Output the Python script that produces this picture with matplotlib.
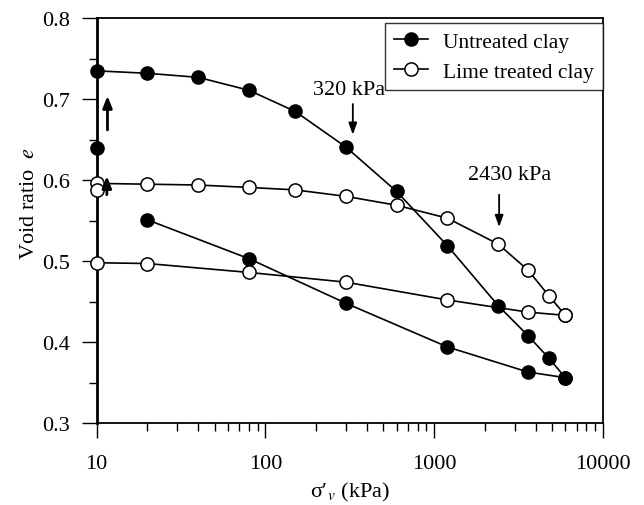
import matplotlib
matplotlib.use("Agg")
import matplotlib.pyplot as plt
from matplotlib.ticker import FixedLocator, NullFormatter, LogLocator

plt.rcParams['font.family'] = ['Liberation Serif', 'DejaVu Serif']
plt.rcParams['mathtext.fontset'] = 'stix'

# Untreated clay
unt_init_x = [10]
unt_init_y = [0.640]
unt_load_x = [10, 20, 40, 80, 150, 300, 600, 1200, 2400, 3600, 4800, 6000]
unt_load_y = [0.735, 0.732, 0.727, 0.711, 0.685, 0.641, 0.586, 0.519, 0.445, 0.408, 0.380, 0.356]
unt_unload_x = [6000, 3600, 1200, 300, 80, 20]
unt_unload_y = [0.356, 0.363, 0.394, 0.448, 0.503, 0.551]

# Lime treated clay
lime_init_x = [10]
lime_init_y = [0.588]
lime_load_x = [10, 20, 40, 80, 150, 300, 600, 1200, 2400, 3600, 4800, 6000]
lime_load_y = [0.596, 0.595, 0.594, 0.591, 0.588, 0.580, 0.569, 0.553, 0.521, 0.489, 0.457, 0.433]
lime_unload_x = [6000, 3600, 1200, 300, 80, 20, 10]
lime_unload_y = [0.433, 0.437, 0.452, 0.474, 0.486, 0.497, 0.498]

fig = plt.figure(figsize=(6.44, 5.06), dpi=100)
ax = fig.add_axes([0.150, 0.162, 0.786, 0.800])

lw = 1.2
ms = 9.5
kw_f = dict(color='black', marker='o', markersize=ms, markerfacecolor='black',
            markeredgecolor='black', linewidth=lw, clip_on=False, zorder=3)
kw_o = dict(color='black', marker='o', markersize=ms, markerfacecolor='white',
            markeredgecolor='black', markeredgewidth=1.1, linewidth=lw, clip_on=False, zorder=3)

ax.plot(unt_load_x, unt_load_y, label='Untreated clay', **kw_f)
ax.plot(unt_unload_x, unt_unload_y, **kw_f)
ax.plot(unt_init_x, unt_init_y, linestyle='none', **{k: v for k, v in kw_f.items() if k != 'linewidth'})
ax.plot(lime_load_x, lime_load_y, label='Lime treated clay', **kw_o)
ax.plot(lime_unload_x, lime_unload_y, **kw_o)
ax.plot(lime_init_x, lime_init_y, linestyle='none', **{k: v for k, v in kw_o.items() if k != 'linewidth'})

arrow = dict(arrowstyle='-|>,head_length=0.7,head_width=0.28', color='black', lw=2.0,
             shrinkA=0, shrinkB=0)
ax.annotate('', xy=(11.6, 0.704), xytext=(11.6, 0.662), arrowprops=arrow, zorder=4)
ax.annotate('', xy=(11.5, 0.605), xytext=(11.5, 0.582), arrowprops=arrow, zorder=4)
arrow2 = dict(arrowstyle='-|>,head_length=0.7,head_width=0.25', color='black', lw=1.3,
              shrinkA=0, shrinkB=0)
ax.annotate('', xy=(330, 0.656), xytext=(330, 0.694), arrowprops=arrow2)
ax.annotate('', xy=(2430, 0.542), xytext=(2430, 0.582), arrowprops=arrow2)
ax.text(312, 0.712, '320 kPa', ha='center', va='center', fontsize=16)
ax.text(2800, 0.6065, '2430 kPa', ha='center', va='center', fontsize=16)

ax.set_xscale('log')
ax.set_xlim(10, 10000)
ax.set_ylim(0.3, 0.8)
ax.set_xticks([10, 100, 1000, 10000])
ax.set_xticklabels(['10', '100', '1000', '10000'])
ax.xaxis.set_minor_locator(LogLocator(base=10, subs=range(2, 10)))
ax.xaxis.set_minor_formatter(NullFormatter())
ax.set_yticks([0.3, 0.4, 0.5, 0.6, 0.7, 0.8])
ax.set_yticklabels(['0.3', '0.4', '0.5', '0.6', '0.7', '0.8'])
ax.yaxis.set_minor_locator(FixedLocator([0.35, 0.45, 0.55, 0.65, 0.75]))

ax.tick_params(which='major', direction='out', length=10.5, width=1.0, labelsize=16, pad=9)
ax.tick_params(axis='x', which='major', pad=12)
ax.tick_params(which='minor', direction='out', length=6, width=1.0)
for s in ax.spines.values():
    s.set_linewidth(1.3)
ax.spines['left'].set_linewidth(2.0)

ax.set_xlabel("σ′$_{v}$ (kPa)", fontsize=16, labelpad=5)
ax.set_ylabel("Void ratio  $e$", fontsize=16)
ax.yaxis.set_label_coords(-0.113, 0.546)

leg = ax.legend(loc='upper right', bbox_to_anchor=(1.0, 0.988), borderaxespad=0.0,
                fontsize=15.5, frameon=True, fancybox=False,
                edgecolor='black', handlelength=1.6,
                borderpad=0.4, labelspacing=0.45, handletextpad=0.7)
leg.get_frame().set_linewidth(1.0)

fig.savefig('out.png', dpi=100)
